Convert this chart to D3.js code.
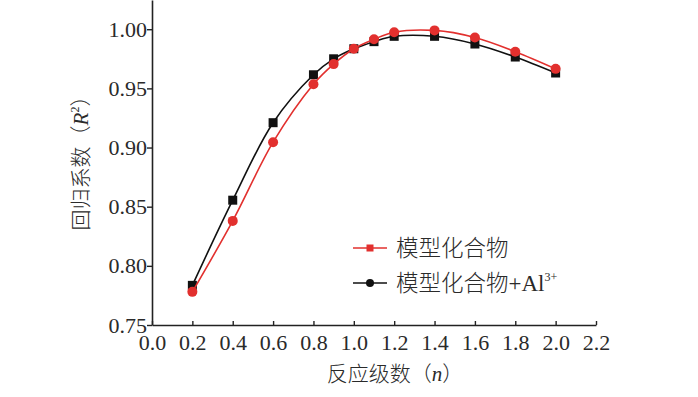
<!DOCTYPE html>
<html><head><meta charset="utf-8">
<script src="https://cdn.jsdelivr.net/npm/d3@7/dist/d3.min.js"></script>
<style>body{margin:0;background:#fff}svg{display:block}</style>
</head><body>
<svg id="c" width="698" height="397"></svg>
<script>
const nValues = [0.2, 0.4, 0.6, 0.8, 0.9, 1.0, 1.1, 1.2, 1.4, 1.6, 1.8, 2.0];
const modelR2 = [0.778, 0.838, 0.9045, 0.9535, 0.9705, 0.9835, 0.9915, 0.9975, 0.999, 0.993, 0.981, 0.9665];
const modelAlR2 = [0.7835, 0.8555, 0.921, 0.9615, 0.975, 0.9835, 0.9895, 0.994, 0.994, 0.9875, 0.9765, 0.963];
const xTicks = [0.0, 0.2, 0.4, 0.6, 0.8, 1.0, 1.2, 1.4, 1.6, 1.8, 2.0, 2.2];
const yTicks = [0.75, 0.80, 0.85, 0.90, 0.95, 1.00];
const seriesNames = ["模型化合物", "模型化合物+Al"];

const RED = "#e2302e", BLACK = "#111111", TXT = "#2a2a2a";
const svg = d3.select("#c");
const x = d3.scaleLinear().domain([0, 2.2]).range([152, 596]);
const y = d3.scaleLinear().domain([0.75, 1.0247]).range([325, 0]);
const numFont = "'Liberation Serif','Times New Roman',serif";
const cjkFont = "'Noto Sans CJK SC','Liberation Serif',serif";

// x axis (ticks inward)
const gx = svg.append("g").attr("transform", "translate(0,325)")
  .call(d3.axisBottom(x).tickValues(xTicks).tickFormat(d3.format(".1f")).tickSizeInner(-4).tickSizeOuter(0));
gx.select(".domain").attr("stroke", "#222").attr("stroke-width", 1.6);
gx.selectAll(".tick line").attr("stroke", "#222").attr("stroke-width", 1.4);
gx.selectAll(".tick text").attr("y", 9).attr("dy", "0.71em")
  .style("font-family", numFont).style("font-size", "22px").attr("fill", TXT);

// y axis (ticks outward)
const gy = svg.append("g").attr("transform", "translate(152,0)")
  .call(d3.axisLeft(y).tickValues(yTicks).tickFormat(d3.format(".2f")).tickSizeInner(5).tickSizeOuter(0));
gy.select(".domain").attr("stroke", "#222").attr("stroke-width", 1.6);
gy.selectAll(".tick line").attr("stroke", "#222").attr("stroke-width", 1.4);
gy.selectAll(".tick text").attr("x", -5)
  .style("font-family", numFont).style("font-size", "22px").attr("fill", TXT);

// axis titles
const xt = svg.append("text").attr("x", 395).attr("y", 381).attr("text-anchor", "middle")
  .style("font-family", cjkFont).style("font-size", "21px").style("font-weight", 300).attr("fill", TXT);
xt.append("tspan").text("反应级数（");
xt.append("tspan").text("n").style("font-family", numFont).style("font-style", "italic");
xt.append("tspan").text("）");

const yt = svg.append("text").attr("transform", "translate(88,158) rotate(-90)").attr("text-anchor", "middle")
  .style("font-family", cjkFont).style("font-size", "21px").style("font-weight", 300).attr("fill", TXT);
yt.append("tspan").text("回归系数（");
yt.append("tspan").text("R").style("font-family", numFont).style("font-style", "italic");
yt.append("tspan").text("2").style("font-family", numFont).style("font-size", "12px").attr("dy", "-9");
yt.append("tspan").text("）").attr("dy", "9");

const line = d3.line().x((d, i) => x(nValues[i])).y(d => y(d)).curve(d3.curveCatmullRom.alpha(0.5));

// black series (squares)
svg.append("path").datum(modelAlR2).attr("d", line).attr("fill", "none").attr("stroke", BLACK).attr("stroke-width", 1.6);
svg.append("g").selectAll("rect").data(modelAlR2).join("rect")
  .attr("x", (d, i) => x(nValues[i]) - 4.5).attr("y", d => y(d) - 4.5)
  .attr("width", 9).attr("height", 9).attr("fill", BLACK);

// red series (circles)
svg.append("path").datum(modelR2).attr("d", line).attr("fill", "none").attr("stroke", RED).attr("stroke-width", 1.6);
svg.append("g").selectAll("circle").data(modelR2).join("circle")
  .attr("cx", (d, i) => x(nValues[i])).attr("cy", d => y(d)).attr("r", 5).attr("fill", RED);

// legend
const lg = svg.append("g");
lg.append("line").attr("x1", 353).attr("x2", 387).attr("y1", 248).attr("y2", 248).attr("stroke", RED).attr("stroke-width", 1.6);
lg.append("rect").attr("x", 366.5).attr("y", 244.5).attr("width", 7).attr("height", 7).attr("fill", RED);
lg.append("text").attr("x", 396).attr("y", 248).attr("dy", "0.36em").text(seriesNames[0])
  .style("font-family", cjkFont).style("font-size", "22.5px").style("font-weight", 300).attr("fill", TXT);
lg.append("line").attr("x1", 353).attr("x2", 387).attr("y1", 283).attr("y2", 283).attr("stroke", BLACK).attr("stroke-width", 1.6);
lg.append("circle").attr("cx", 370).attr("cy", 283).attr("r", 4).attr("fill", BLACK);
const l2 = lg.append("text").attr("x", 396).attr("y", 283).attr("dy", "0.36em")
  .style("font-family", cjkFont).style("font-size", "22.5px").style("font-weight", 300).attr("fill", TXT);
l2.append("tspan").text("模型化合物");
l2.append("tspan").text("+Al").style("font-family", numFont).style("font-size", "23px").style("font-weight", 400);
l2.append("tspan").text("3+").style("font-family", numFont).style("font-size", "12px").style("font-weight", 400).attr("dy", "-10");
</script>
</body></html>
